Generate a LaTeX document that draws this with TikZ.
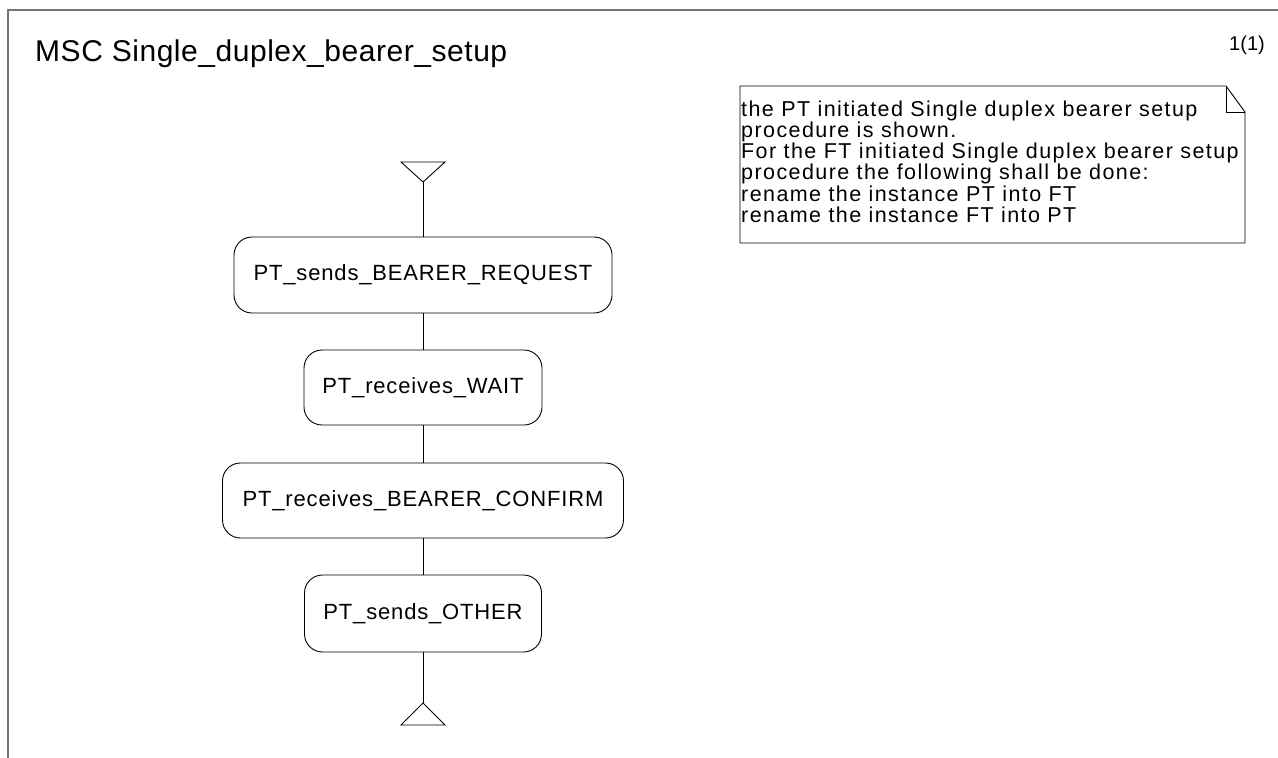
\documentclass[tikz,border=0pt]{standalone}
\usepackage{fontspec}
\setmainfont{Liberation Sans}
\begin{document}
\begin{tikzpicture}[x=1pt,y=-1pt,
  framecol/.style={draw=black!55,line width=1.8pt},
  ln/.style={draw=black,line width=0.9pt},
  actbox/.style={draw=black,line width=0.9pt,rounded corners=18pt,inner sep=0pt,
     font=\fontsize{22}{26}\selectfont\addfontfeature{LetterSpace=3.8}},
  notetext/.style={font=\fontsize{21.5}{21.2}\selectfont\addfontfeature{LetterSpace=6.6},align=left,inner sep=0pt,anchor=north west}]
\useasboundingbox (0,0) rectangle (1278,758);
% frame
\draw[framecol] (8,758) -- (8,10) -- (1278,10);
\node[anchor=base west,inner sep=0pt,font=\fontsize{30}{34}\selectfont\addfontfeature{LetterSpace=1.8}] (title) at (35,61) {MSC Single\_duplex\_bearer\_setup};
\node[anchor=base east,inner sep=0pt,font=\fontsize{20}{24}\selectfont] (page) at (1265,50) {1(1)};
% note
\draw[ln] (740,86) -- (1226,86) -- (1245,112) -- (1245,243) -- (740,243) -- cycle;
\draw[ln] (1226,86) -- (1226,112) -- (1245,112);
\node[notetext] (notetxt) at (741,100.5) {the PT initiated Single duplex bearer setup\\procedure is shown.\\For the FT initiated Single duplex bearer setup\\procedure the following shall be done:\\rename the instance PT into FT\\rename the instance FT into PT};
% instance
\coordinate (topapex) at (423,182);
\coordinate (botapex) at (423,703);
\draw[ln] (401,162) -- (445,162) -- (topapex) -- cycle;
\draw[ln] (botapex) -- (401,725) -- (445,725) -- cycle;
\node[actbox,minimum width=378pt,minimum height=76pt] (b1) at (423,275) {PT\_sends\_BEARER\_REQUEST};
\node[actbox,minimum width=238pt,minimum height=75pt] (b2) at (423,387.5) {PT\_receives\_WAIT};
\node[actbox,minimum width=401pt,minimum height=75pt] (b3) at (423,500.5) {PT\_receives\_BEARER\_CONFIRM};
\node[actbox,minimum width=237pt,minimum height=77pt] (b4) at (423,613.5) {PT\_sends\_OTHER};
\draw[ln] (topapex) -- (b1.north);
\draw[ln] (b1.south) -- (b2.north);
\draw[ln] (b2.south) -- (b3.north);
\draw[ln] (b3.south) -- (b4.north);
\draw[ln] (b4.south) -- (botapex);
\end{tikzpicture}
\end{document}
